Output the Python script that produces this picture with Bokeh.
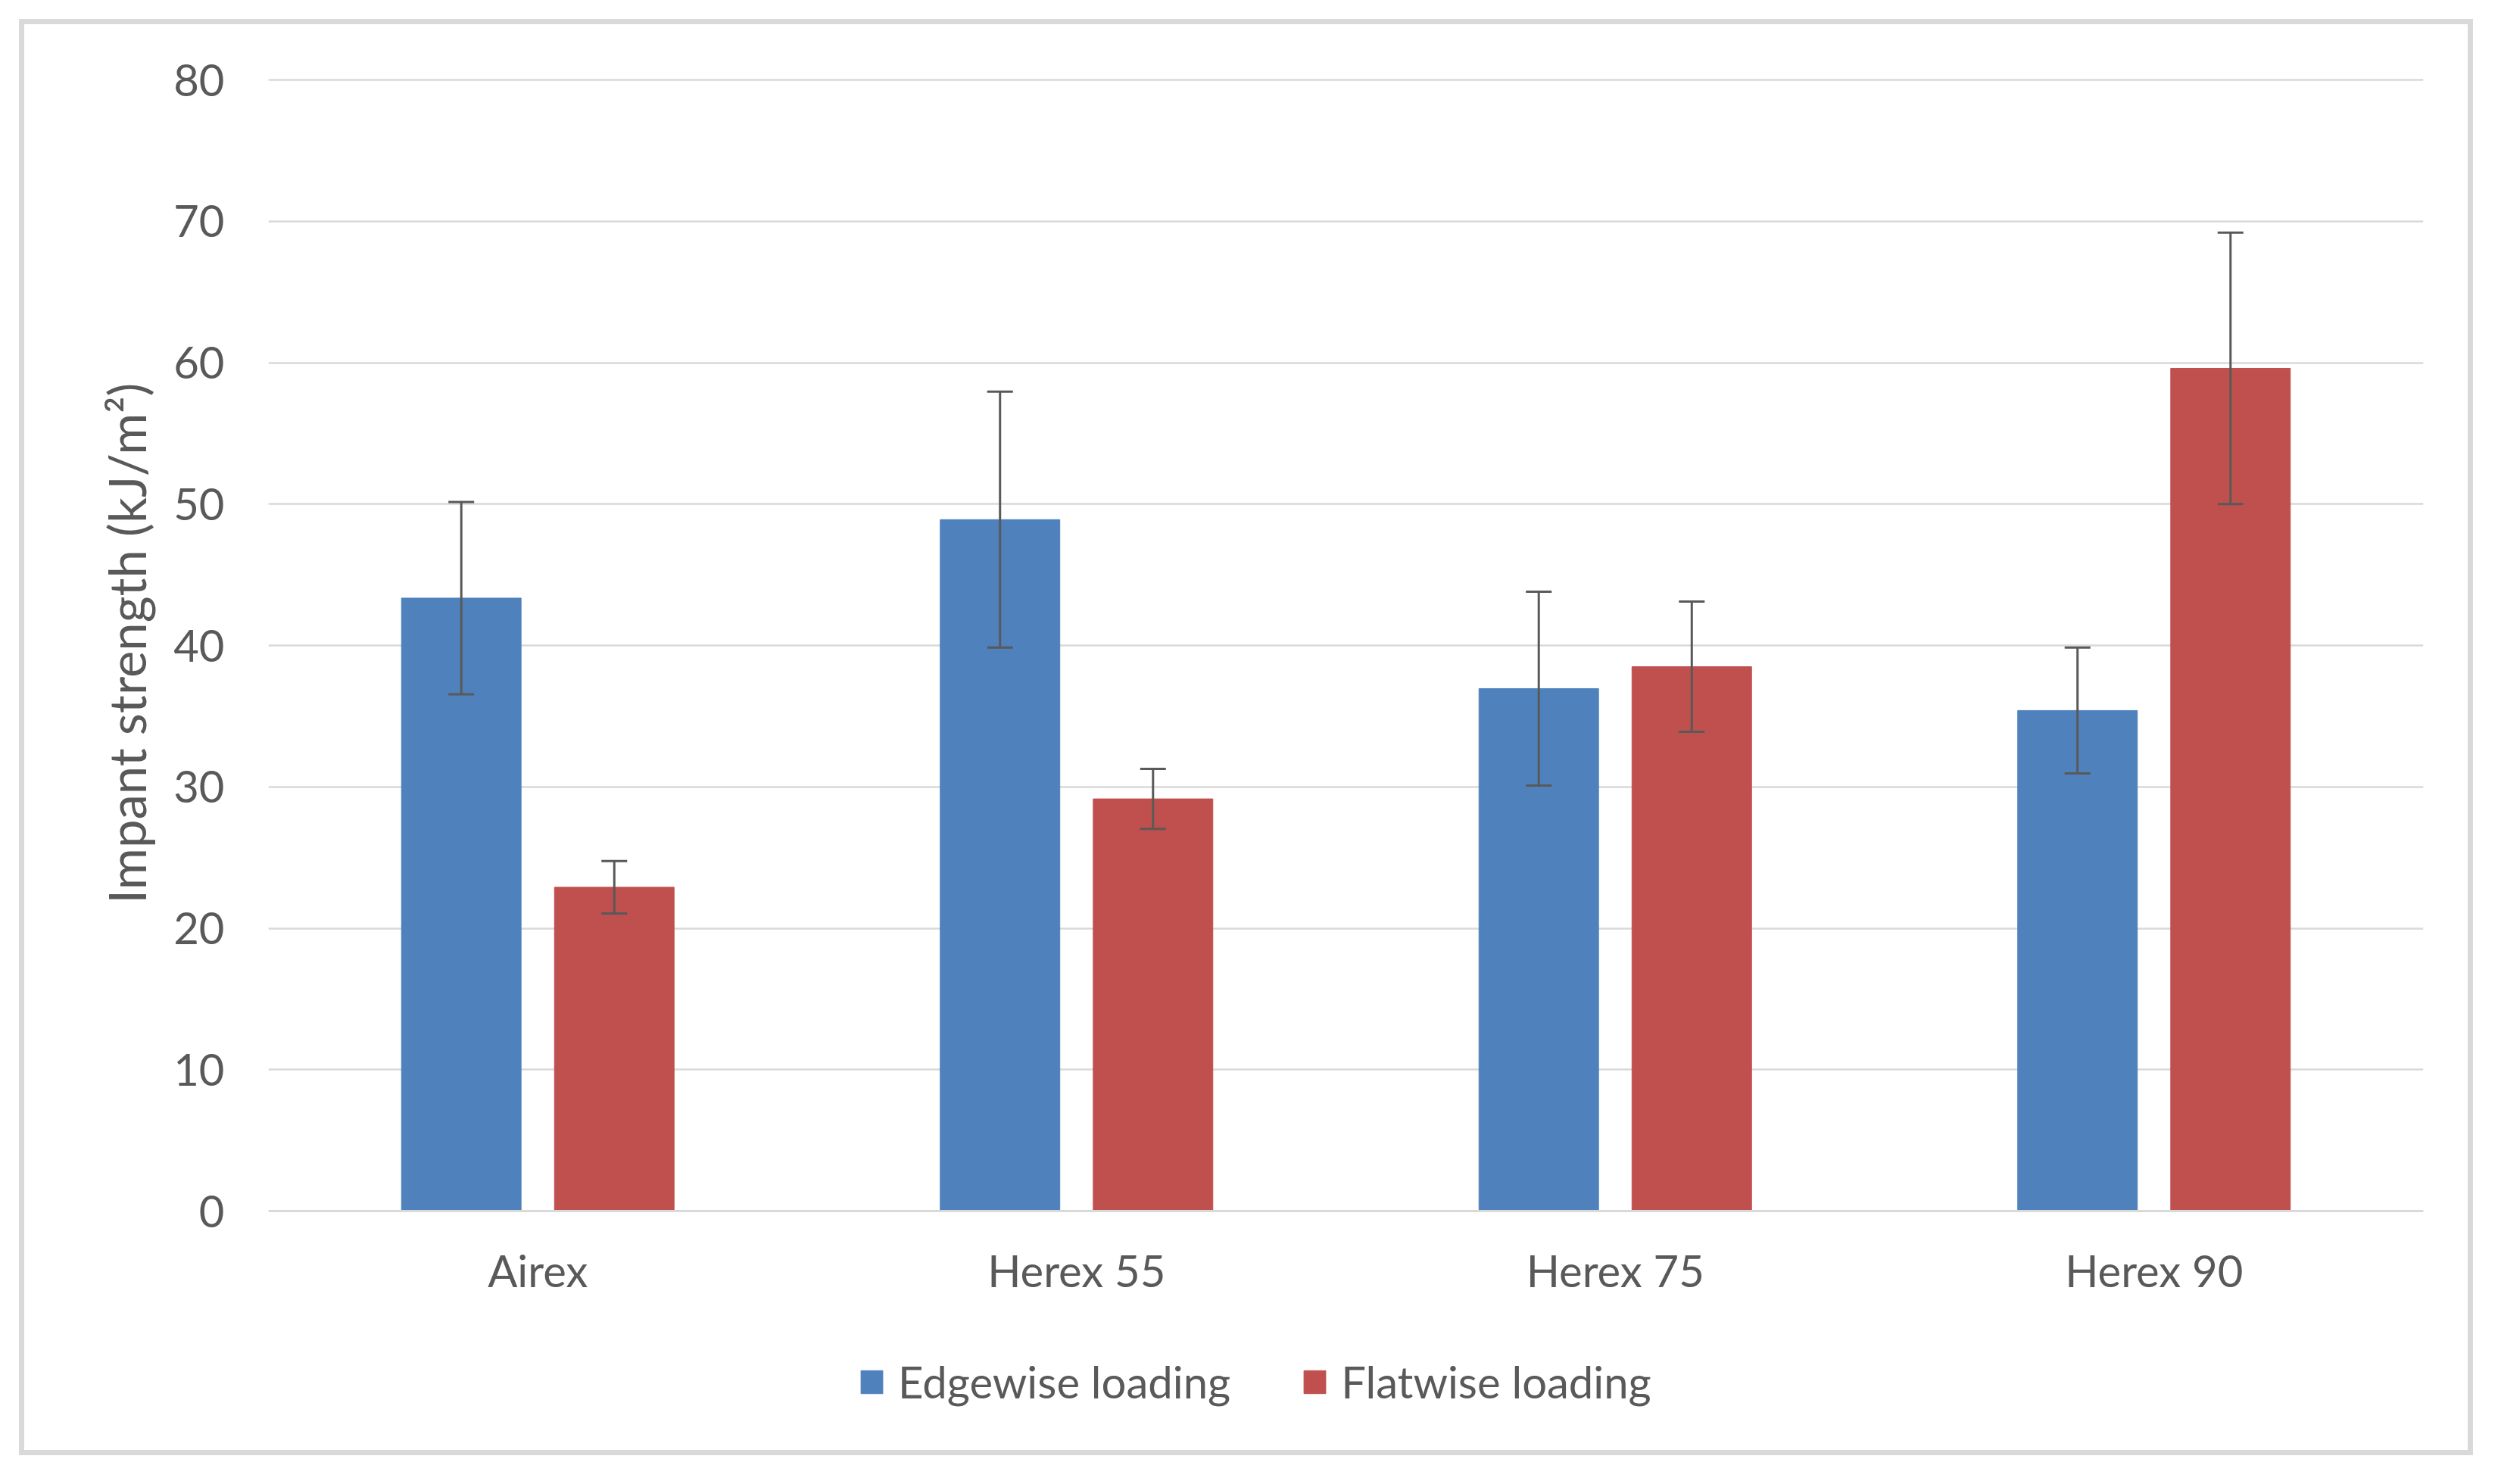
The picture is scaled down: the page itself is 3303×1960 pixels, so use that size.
from bokeh.plotting import figure
from bokeh.models import (ColumnDataSource, Whisker, TeeHead, Legend, LegendItem,
                          Range1d, FactorRange, Title)
from bokeh.transform import dodge
from bokeh.embed import file_html
from bokeh.resources import INLINE

# ---- data ----
categories = ["Airex", "Herex 55", "Herex 75", "Herex 90"]
edgewise = [43.35, 48.9, 36.95, 35.4]
edgewise_sd = [6.8, 9.05, 6.85, 4.45]
flatwise = [22.9, 29.15, 38.5, 59.6]
flatwise_sd = [1.85, 2.12, 4.6, 9.6]
series_names = ["Edgewise loading", "Flatwise loading"]
y_ticks = [0, 10, 20, 30, 40, 50, 60, 70, 80]
y_title = "Impant strength (kJ/m²)"

BLUE = "#4F81BD"
RED = "#C0504D"
TEXT = "#595959"
GRID = "#D9D9D9"
FONT = "Lato"

src = ColumnDataSource(dict(
    cat=categories,
    edge=edgewise,
    edge_up=[v + s for v, s in zip(edgewise, edgewise_sd)],
    edge_lo=[v - s for v, s in zip(edgewise, edgewise_sd)],
    flat=flatwise,
    flat_up=[v + s for v, s in zip(flatwise, flatwise_sd)],
    flat_lo=[v - s for v, s in zip(flatwise, flatwise_sd)],
))

# layout (canvas pixels)
W, H = 3241, 1897
MB_TOP, MB_BOTTOM, MB_LEFT, MB_RIGHT = 69, 40, 322, 73
Y80_PX, Y0_PX = 73, 1567          # where 80 and 0 should sit on the canvas
ppu = (Y0_PX - Y80_PX) / 80.0
y_end = 80 + (Y80_PX - MB_TOP) / ppu
y_start = -((H - MB_BOTTOM) - Y0_PX) / ppu

p = figure(x_range=FactorRange(*categories), y_range=Range1d(y_start, y_end),
           width=W, height=H, output_backend="svg", toolbar_location=None,
           min_border_left=MB_LEFT, min_border_right=MB_RIGHT, min_border_top=MB_TOP,
           min_border_bottom=MB_BOTTOM)
p.styles = {"border": "7px solid #D9D9D9", "margin-left": "25px", "margin-top": "25px"}
p.outline_line_color = None
p.background_fill_color = "white"
p.border_fill_color = "white"

off = 0.142
bw = 0.222
r1 = p.vbar(x=dodge("cat", -off, range=p.x_range), top="edge", width=bw, source=src,
            fill_color=BLUE, line_color=BLUE)
r2 = p.vbar(x=dodge("cat", off, range=p.x_range), top="flat", width=bw, source=src,
            fill_color=RED, line_color=RED)

for name, d in (("edge", -off), ("flat", off)):
    w = Whisker(base=dodge("cat", d, range=p.x_range), upper=name + "_up", lower=name + "_lo",
                source=src, line_color=TEXT, line_width=3, level="annotation",
                upper_head=TeeHead(size=34, line_color=TEXT, line_width=3),
                lower_head=TeeHead(size=34, line_color=TEXT, line_width=3))
    p.add_layout(w)

# y axis
p.yaxis.ticker = y_ticks
p.ygrid.grid_line_color = GRID
p.ygrid.grid_line_width = 2.5
p.xgrid.grid_line_color = None
p.yaxis.axis_line_color = None
p.yaxis.major_tick_line_color = None
p.yaxis.minor_tick_line_color = None
p.yaxis.major_label_text_font = FONT
p.yaxis.major_label_text_font_size = "58px"
p.yaxis.major_label_text_color = TEXT
p.yaxis.major_label_standoff = 52

p.add_layout(Title(text=y_title, align="right", offset=404, standoff=40,
                   text_font=FONT, text_font_size="67px", text_font_style="normal",
                   text_color=TEXT), "left")

# x axis at value 0
p.xaxis.fixed_location = 0
p.xaxis.axis_line_color = GRID
p.xaxis.axis_line_width = 3
p.xaxis.major_tick_line_color = None
p.xaxis.minor_tick_line_color = None
p.xaxis.major_label_text_font = FONT
p.xaxis.major_label_text_font_size = "58px"
p.xaxis.major_label_text_color = TEXT
p.xaxis.major_label_standoff = 37

legend = Legend(items=[LegendItem(label=series_names[0], renderers=[r1]),
                       LegendItem(label=series_names[1], renderers=[r2])],
                orientation="horizontal", location=(779, 30),
                glyph_width=36, glyph_height=38, label_standoff=17, spacing=93,
                padding=0, margin=0, border_line_color=None,
                background_fill_alpha=0,
                label_text_font=FONT, label_text_font_size="58px",
                label_text_color=TEXT, label_height=38)
p.add_layout(legend, "center")

open("out.html", "w").write(file_html(p, INLINE))
